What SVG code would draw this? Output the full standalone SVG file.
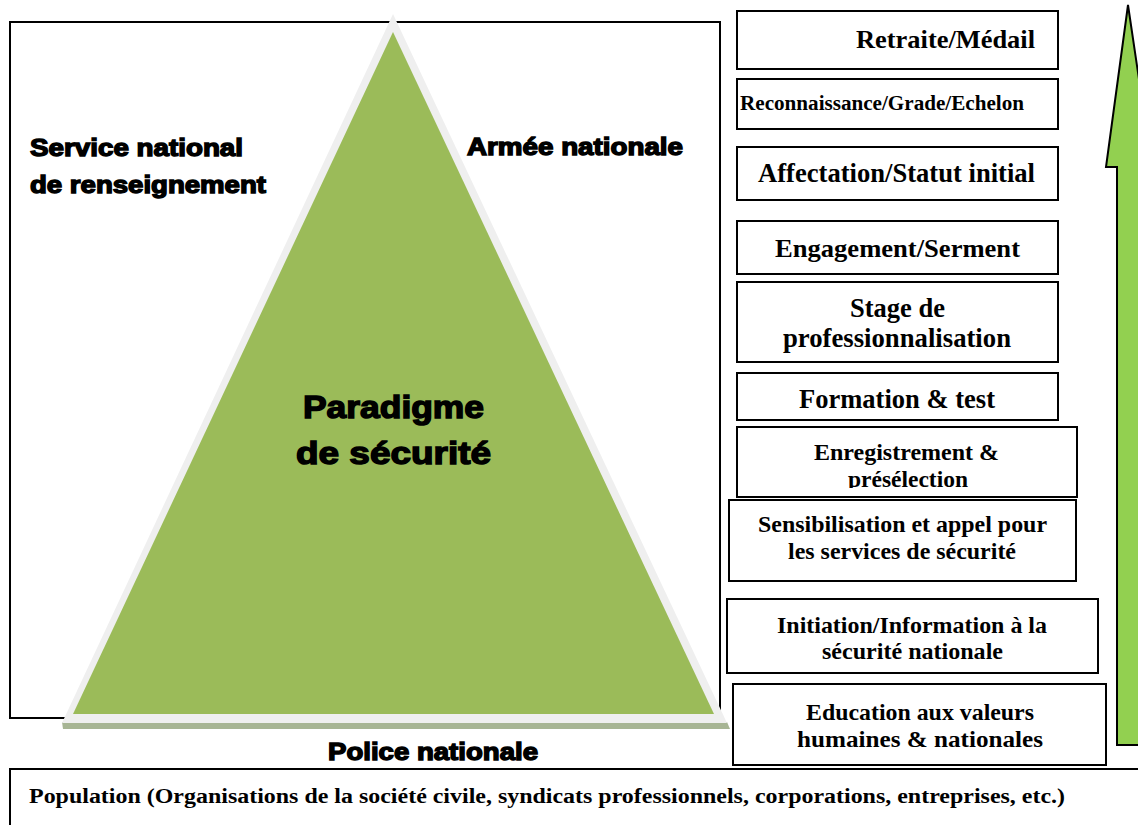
<svg xmlns="http://www.w3.org/2000/svg" width="1138" height="825" viewBox="0 0 1138 825">
<style>
.box{fill:#ffffff;stroke:#000000;stroke-width:2}
.t{font-family:"Liberation Serif","Times New Roman",serif;font-weight:bold;fill:#000000}
.h{font-family:"Liberation Sans",Arial,sans-serif;font-weight:bold;fill:#000000;stroke:#000000;stroke-width:1.4}
</style>
<defs>
<clipPath id="clipEnr"><rect x="737" y="427" width="340" height="61"/></clipPath>
</defs>
<rect width="1138" height="825" fill="#ffffff"/>

<g id="frame">
<rect x="10" y="22" width="710" height="696" fill="none" stroke="#000000" stroke-width="2"/>
</g>

<g id="triangle">
<polygon points="62,722 727,722 730,729 63,729" fill="#a7b594"/>
<polygon points="393,14 62,723 727,723" fill="#efefef"/>
<polygon points="393,32 73,714 714,714" fill="#9bbb59"/>
<text class="h" x="303" y="418" font-size="31" textLength="181" lengthAdjust="spacingAndGlyphs">Paradigme</text>
<text class="h" x="296" y="464" font-size="31" textLength="195" lengthAdjust="spacingAndGlyphs">de sécurité</text>
</g>

<g id="labels">
<text class="h" x="30" y="156" font-size="24" textLength="213" lengthAdjust="spacingAndGlyphs">Service national</text>
<text class="h" x="30" y="193" font-size="24" textLength="236" lengthAdjust="spacingAndGlyphs">de renseignement</text>
<text class="h" x="467" y="155" font-size="24" textLength="216" lengthAdjust="spacingAndGlyphs">Armée nationale</text>
<text class="h" x="328" y="760" font-size="24" textLength="210" lengthAdjust="spacingAndGlyphs">Police nationale</text>
</g>

<g id="arrow">
<polygon points="1117,745 1117,167 1106,167 1128,5 1152,167 1143,167 1143,745" fill="#92d050" stroke="#000000" stroke-width="2"/>
</g>

<g id="n-retraite">
<rect class="box" x="737" y="11" width="321" height="58"/>
<text class="t" x="856" y="48" font-size="26" textLength="179" lengthAdjust="spacingAndGlyphs">Retraite/Médail</text>
</g>
<g id="n-reconnaissance">
<rect class="box" x="737" y="79" width="321" height="50"/>
<text class="t" x="740" y="110" font-size="20" textLength="284" lengthAdjust="spacingAndGlyphs">Reconnaissance/Grade/Echelon</text>
</g>
<g id="n-affectation">
<rect class="box" x="737" y="147" width="321" height="53"/>
<text class="t" x="758" y="182" font-size="26.5" textLength="277" lengthAdjust="spacingAndGlyphs">Affectation/Statut initial</text>
</g>
<g id="n-engagement">
<rect class="box" x="737" y="221" width="321" height="53"/>
<text class="t" x="775" y="257" font-size="25.5" textLength="245" lengthAdjust="spacingAndGlyphs">Engagement/Serment</text>
</g>
<g id="n-stage">
<rect class="box" x="737" y="282" width="321" height="80"/>
<text class="t" x="850" y="317" font-size="26.5" textLength="95" lengthAdjust="spacingAndGlyphs">Stage de</text>
<text class="t" x="783" y="347" font-size="26.5" textLength="228" lengthAdjust="spacingAndGlyphs">professionnalisation</text>
</g>
<g id="n-formation">
<rect class="box" x="737" y="373" width="321" height="47"/>
<text class="t" x="799" y="408" font-size="26.5" textLength="196" lengthAdjust="spacingAndGlyphs">Formation &amp; test</text>
</g>
<g id="n-enregistrement">
<rect class="box" x="737" y="427" width="340" height="70"/>
<text class="t" x="814" y="460" font-size="24" textLength="185" lengthAdjust="spacingAndGlyphs">Enregistrement &amp;</text>
<text class="t" x="848" y="487" font-size="24" textLength="120" lengthAdjust="spacingAndGlyphs" clip-path="url(#clipEnr)">présélection</text>
</g>
<g id="n-sensibilisation">
<rect class="box" x="729" y="500" width="347" height="81"/>
<text class="t" x="758" y="532" font-size="24" textLength="289" lengthAdjust="spacingAndGlyphs">Sensibilisation et appel pour</text>
<text class="t" x="788" y="559" font-size="24" textLength="228" lengthAdjust="spacingAndGlyphs">les services de sécurité</text>
</g>
<g id="n-initiation">
<rect class="box" x="727" y="599" width="371" height="74"/>
<text class="t" x="777" y="633" font-size="24" textLength="270" lengthAdjust="spacingAndGlyphs">Initiation/Information à la</text>
<text class="t" x="822" y="659" font-size="24" textLength="181" lengthAdjust="spacingAndGlyphs">sécurité nationale</text>
</g>
<g id="n-education">
<rect class="box" x="733" y="684" width="373" height="81"/>
<text class="t" x="806" y="720" font-size="24" textLength="228" lengthAdjust="spacingAndGlyphs">Education aux valeurs</text>
<text class="t" x="797" y="747" font-size="24" textLength="246" lengthAdjust="spacingAndGlyphs">humaines &amp; nationales</text>
</g>

<g id="n-population">
<rect class="box" x="10" y="769" width="1140" height="70"/>
<text class="t" x="29" y="803" font-size="20" textLength="1036" lengthAdjust="spacingAndGlyphs">Population (Organisations de la société civile, syndicats professionnels, corporations, entreprises, etc.)</text>
</g>

<g id="connectors"></g>
</svg>
